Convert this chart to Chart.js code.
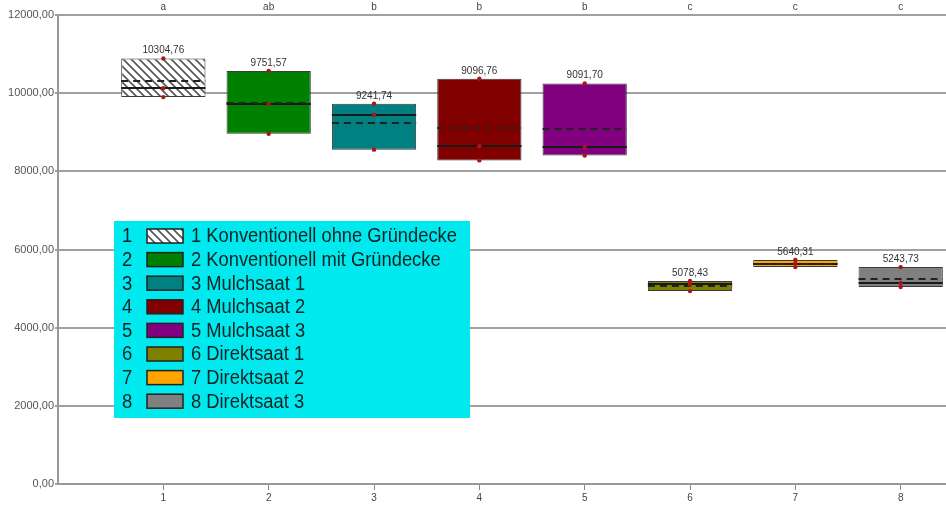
<!DOCTYPE html>
<html>
<head>
<meta charset="utf-8">
<script src="https://cdn.jsdelivr.net/npm/chart.js@4"></script>
<style>
  html, body { margin: 0; padding: 0; background: #fff; }
</style>
</head>
<body>
<canvas id="chart" width="946" height="506"></canvas>
<script>
// treatment positions on the x axis
const positions = [1, 2, 3, 4, 5, 6, 7, 8];
const treatments = [
  "1 Konventionell ohne Gründecke",
  "2 Konventionell mit Gründecke",
  "3 Mulchsaat 1",
  "4 Mulchsaat 2",
  "5 Mulchsaat 3",
  "6 Direktsaat 1",
  "7 Direktsaat 2",
  "8 Direktsaat 3"
];
const groupLetters = ["a", "ab", "b", "b", "b", "c", "c", "c"];

// box = min..max, solid line = median, dashed line = mean
const maxValues = [10890, 10570, 9730, 10370, 10250, 5195, 5730, 5550];
const medianValues = [10124, 9725, 9440, 8640, 8620, 5105, 5641, 5141];
const minValues = [9900, 8960, 8555, 8280, 8405, 4935, 5550, 5040];
const meanValues = [10304.76, 9751.57, 9241.74, 9096.76, 9091.70, 5078.43, 5640.31, 5243.73];

const boxColors = ["hatch", "#008000", "#008080", "#800000", "#800080", "#808000", "#ffa500", "#808080"];

const fmt = v => Number(v).toFixed(2).replace(".", ",");

const canvas = document.getElementById("chart");
const ctx = canvas.getContext("2d");

// white box with grey diagonal stripes for treatment 1
function makeHatch() {
  const c = document.createElement("canvas");
  c.width = 8; c.height = 8;
  const g = c.getContext("2d");
  g.fillStyle = "#fff";
  g.fillRect(0, 0, 8, 8);
  g.strokeStyle = "#555";
  g.lineWidth = 1.6;
  g.beginPath();
  g.moveTo(-2, -2); g.lineTo(10, 10);
  g.moveTo(-2, 6); g.lineTo(2, 10);
  g.moveTo(6, -2); g.lineTo(10, 2);
  g.stroke();
  return ctx.createPattern(c, "repeat");
}
const hatch = makeHatch();
const fills = boxColors.map(c => (c === "hatch" ? hatch : c));

const boxDecor = {
  id: "boxDecor",
  afterDatasetDraw(chart, args) {
    if (args.meta.type !== "bar") return;
    const c = chart.ctx, y = chart.scales.y;
    args.meta.data.forEach((bar, i) => {
      const l = bar.x - bar.width / 2, r = bar.x + bar.width / 2;
      c.save();
      c.strokeStyle = "#1a1a1a";
      c.lineWidth = 2;
      let yy = Math.round(y.getPixelForValue(medianValues[i]));
      c.beginPath(); c.moveTo(l, yy); c.lineTo(r, yy); c.stroke();
      c.strokeStyle = "#222";
      c.setLineDash([7, 5]);
      yy = Math.round(y.getPixelForValue(meanValues[i]));
      c.beginPath(); c.moveTo(l, yy); c.lineTo(r, yy); c.stroke();
      c.restore();
    });
  },
  afterDraw(chart) {
    const c = chart.ctx, x = chart.scales.x;
    const bars = chart.getDatasetMeta(0).data;
    c.save();
    // mean labels above boxes
    c.font = "10px 'Liberation Sans', Arial, sans-serif";
    c.fillStyle = "#333";
    c.textAlign = "center";
    c.textBaseline = "alphabetic";
    bars.forEach((bar, i) => {
      const top = Math.min(bar.y, bar.base);
      c.fillText(fmt(meanValues[i]), bar.x, top - 5);
    });
    // significance letters on top
    c.textBaseline = "middle";
    c.fillStyle = "#444";
    positions.forEach((p, i) => c.fillText(groupLetters[i], x.getPixelForValue(p), 7));

    // legend
    const lx = 114, ly = 221, lw = 356, lh = 197, row = 23.6;
    c.fillStyle = "#00e9ee";
    c.fillRect(lx, ly, lw, lh);
    c.font = "19.5px 'Liberation Sans', Arial, sans-serif";
    c.textAlign = "left";
    treatments.forEach((t, i) => {
      const cy = ly + 15 + i * row;
      c.fillStyle = fills[i];
      c.fillRect(lx + 33, cy - 7, 36, 14);
      c.strokeStyle = "#222";
      c.lineWidth = 1.5;
      c.strokeRect(lx + 33, cy - 7, 36, 14);
      c.fillStyle = "#0c2424";
      c.save();
      c.translate(lx + 8, cy + 1);
      c.scale(0.95, 1);
      c.fillText(String(positions[i]), 0, 0);
      c.restore();
      c.save();
      c.translate(lx + 77, cy + 1);
      c.scale(0.94, 1);
      c.fillText(t, 0, 0);
      c.restore();
    });
    c.restore();
  }
};

new Chart(ctx, {
  type: "bar",
  data: {
    datasets: [
      {
        data: positions.map((p, i) => ({ x: p, y: [minValues[i], maxValues[i]] })),
        backgroundColor: fills,
        borderColor: "#3a3a3a",
        borderWidth: 1,
        borderSkipped: false,
        barPercentage: 0.8,
        categoryPercentage: 1
      },
      {
        type: "scatter",
        order: -1,
        data: positions.flatMap((p, i) => [
          { x: p, y: maxValues[i] },
          { x: p, y: medianValues[i] },
          { x: p, y: minValues[i] }
        ]),
        pointRadius: 2.2,
        pointBackgroundColor: "#a81818",
        pointBorderWidth: 0
      }
    ]
  },
  options: {
    responsive: false,
    animation: false,
    devicePixelRatio: 1,
    layout: { autoPadding: false, padding: { top: 15, right: 0, left: 0, bottom: 0 } },
    plugins: { legend: { display: false }, tooltip: { enabled: false } },
    scales: {
      x: {
        type: "linear",
        offset: false,
        min: 0,
        max: 8.43,
        afterBuildTicks: s => { s.ticks = positions.map(v => ({ value: v })); },
        afterFit: s => { s.height = 22; },
        ticks: {
          color: "#444",
          font: { size: 10, family: "'Liberation Sans', Arial, sans-serif" },
          padding: 2,
          maxRotation: 0
        },
        grid: { offset: false, drawOnChartArea: false, tickLength: 6, color: "#888" },
        border: { color: "#999", width: 2 }
      },
      y: {
        min: 0,
        max: 12000,
        afterFit: s => { s.width = 58; },
        ticks: {
          stepSize: 2000,
          color: "#555",
          padding: 1,
          font: { size: 11, family: "'Liberation Sans', Arial, sans-serif" },
          callback: v => fmt(v)
        },
        grid: { color: "#a0a0a0", lineWidth: 2, tickLength: 3 },
        border: { color: "#999", width: 2 }
      }
    }
  },
  plugins: [boxDecor]
});
</script>
</body>
</html>
